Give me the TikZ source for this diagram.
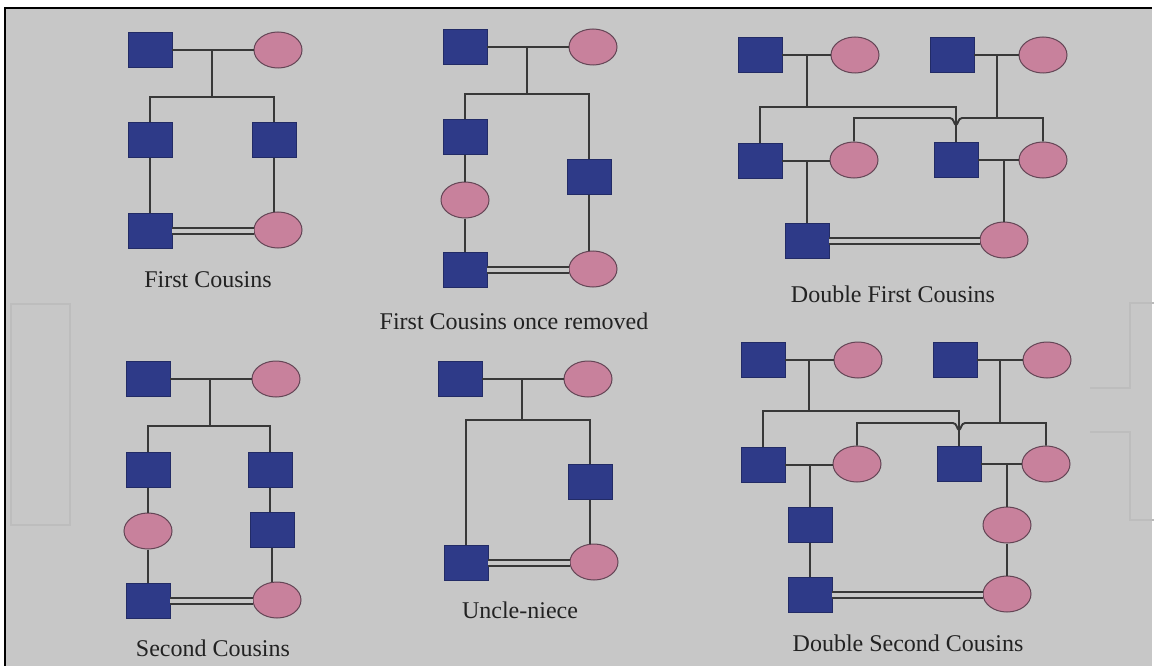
\documentclass[tikz,border=0pt]{standalone}
\usepackage{fontspec}
\setmainfont{Liberation Serif}
\usetikzlibrary{calc,shapes.geometric}
\definecolor{bggray}{HTML}{C7C7C7}
\definecolor{faintcol}{HTML}{BDBDBD}
\definecolor{malefill}{HTML}{2E3A88}
\definecolor{maleedge}{HTML}{222B66}
\definecolor{femfill}{HTML}{C8819C}
\definecolor{femedge}{HTML}{634555}
\definecolor{linecol}{HTML}{383838}
\definecolor{textcol}{HTML}{222222}
\begin{document}
\begin{tikzpicture}[x=1pt,y=-1pt,
  male/.style={rectangle,draw=maleedge,fill=malefill,line width=0.8pt,minimum width=44pt,minimum height=35pt,inner sep=0pt},
  female/.style={ellipse,draw=femedge,fill=femfill,line width=1pt,minimum width=48pt,minimum height=36pt,inner sep=0pt},
  link/.style={draw=linecol,line width=1.9pt},
  mate/.style={draw=linecol,line width=1.6pt,double=bggray,double distance=4.4pt},
  caption/.style={font=\fontsize{24}{28}\selectfont,text=textcol,inner sep=0pt},
  faint/.style={draw=faintcol,line width=1.5pt}]
\useasboundingbox (0,0) rectangle (1154,666);
\fill[white] (0,0) rectangle (1154,666);
\fill[bggray] (5,8) rectangle (1152,666);
\draw[black,line width=2pt] (5,666) -- (5,8) -- (1152,8);
% faint background shapes
\draw[faint] (11,304) rectangle (70,525);
\draw[faint] (1154,303) -- (1130,303) -- (1130,388) -- (1090,388);
\draw[faint] (1090,432) -- (1130,432) -- (1130,520) -- (1154,520);

% ---------- Panel 1: First Cousins ----------
\node[male] (p1a) at (150,50) {};
\node[female] (p1b) at (278,50) {};
\node[male] (p1c) at (150,140) {};
\node[male] (p1d) at (274,140) {};
\node[male] (p1e) at (150,231) {};
\node[female] (p1f) at (278,230) {};
\coordinate (p1m) at (212,50);
\coordinate (p1s) at (p1m |- 0,97);
\draw[link] (p1a.east) -- (p1a.east -| p1b.west);
\draw[link] (p1m) -- (p1s);
\draw[link] (p1c.north) |- (p1s) -| (p1d.north);
\draw[link] (p1c.south) -- (p1e.north);
\draw[link] (p1d.south) -- (p1d.south |- p1f.north);
\draw[mate] (p1e.east) -- (p1e.east -| p1f.west);
\node[caption] (p1t) at (208,280) {First Cousins};

% ---------- Panel 2: First Cousins once removed ----------
\node[male] (p2a) at (465,47) {};
\node[female] (p2b) at (593,47) {};
\node[male] (p2c) at (465,137) {};
\node[male] (p2d) at (589,177) {};
\node[female] (p2e) at (465,200) {};
\node[male] (p2f) at (465,270) {};
\node[female] (p2g) at (593,269) {};
\coordinate (p2m) at (527,47);
\coordinate (p2s) at (p2m |- 0,94);
\draw[link] (p2a.east) -- (p2a.east -| p2b.west);
\draw[link] (p2m) -- (p2s);
\draw[link] (p2c.north) |- (p2s) -| (p2d.north);
\draw[link] (p2c.south) -- (p2e.north);
\draw[link] (p2e.south) -- (p2f.north);
\draw[link] (p2d.south) -- (p2d.south |- p2g.north);
\draw[mate] (p2f.east) -- (p2f.east -| p2g.west);
\node[caption] (p2t) at (514,321) {First Cousins once removed};

% ---------- Panel 3: Double First Cousins ----------
\node[male] (p3a) at (760,55) {};
\node[female] (p3b) at (855,55) {};
\node[male] (p3c) at (952,55) {};
\node[female] (p3d) at (1043,55) {};
\node[male] (p3e) at (760,161) {};
\node[female] (p3f) at (854,160) {};
\node[male] (p3g) at (956,160) {};
\node[female] (p3h) at (1043,160) {};
\node[male] (p3i) at (807,241) {};
\node[female] (p3j) at (1004,240) {};
\coordinate (p3m1) at (807,55);
\coordinate (p3s1) at (p3m1 |- 0,107);
\coordinate (p3m2) at (997,55);
\coordinate (p3s2) at (p3m2 |- 0,118);
\coordinate (p3x) at (p3g.north |- p3s2);
\draw[link] (p3a.east) -- (p3a.east -| p3b.west);
\draw[link] (p3c.east) -- (p3c.east -| p3d.west);
\draw[link] (p3m1) -- (p3s1);
\draw[link] (p3m2) -- (p3s2);
\draw[link] (p3e.north) |- (p3s1) -| (p3g.north);
\draw[link] (p3f.north) |- ($(p3x)+(-6,0)$) .. controls ($(p3x)+(-2,0)$) and ($(p3x)+(-2,7)$) .. ($(p3x)+(0,7)$) .. controls ($(p3x)+(2,7)$) and ($(p3x)+(2,0)$) .. ($(p3x)+(6,0)$) -| (p3h.north);
\draw[link] (p3e.east) -- (p3e.east -| p3f.west);
\draw[link] (p3g.east) -- (p3g.east -| p3h.west);
\draw[link] (p3i.north) -- (p3i.north |- p3e.east);
\draw[link] (p3j.north) -- (p3j.north |- p3g.east);
\draw[mate] (p3i.east) -- (p3i.east -| p3j.west);
\node[caption] (p3t) at (893,294) {Double First Cousins};

% ---------- Panel 4: Second Cousins ----------
\node[male] (p4a) at (148,379) {};
\node[female] (p4b) at (276,379) {};
\node[male] (p4c) at (148,470) {};
\node[male] (p4d) at (270,470) {};
\node[female] (p4e) at (148,531) {};
\node[male] (p4f) at (272,530) {};
\node[male] (p4g) at (148,601) {};
\node[female] (p4h) at (277,600) {};
\coordinate (p4m) at (210,379);
\coordinate (p4s) at (p4m |- 0,426);
\draw[link] (p4a.east) -- (p4a.east -| p4b.west);
\draw[link] (p4m) -- (p4s);
\draw[link] (p4c.north) |- (p4s) -| (p4d.north);
\draw[link] (p4c.south) -- (p4e.north);
\draw[link] (p4e.south) -- (p4g.north);
\draw[link] (p4d.south) -- (p4d.south |- p4f.north);
\draw[link] (p4f.south) -- (p4f.south |- p4h.north);
\draw[mate] (p4g.east) -- (p4g.east -| p4h.west);
\node[caption] (p4t) at (213,648) {Second Cousins};

% ---------- Panel 5: Uncle-niece ----------
\node[male] (p5a) at (460,379) {};
\node[female] (p5b) at (588,379) {};
\node[male] (p5c) at (590,482) {};
\node[male] (p5d) at (466,563) {};
\node[female] (p5e) at (594,562) {};
\coordinate (p5m) at (522,379);
\coordinate (p5s) at (p5m |- 0,420);
\draw[link] (p5a.east) -- (p5a.east -| p5b.west);
\draw[link] (p5m) -- (p5s);
\draw[link] (p5d.north) |- (p5s) -| (p5c.north);
\draw[link] (p5c.south) -- (p5c.south |- p5e.north);
\draw[mate] (p5d.east) -- (p5d.east -| p5e.west);
\node[caption] (p5t) at (520,610) {Uncle-niece};

% ---------- Panel 6: Double Second Cousins ----------
\node[male] (p6a) at (763,360) {};
\node[female] (p6b) at (858,360) {};
\node[male] (p6c) at (955,360) {};
\node[female] (p6d) at (1047,360) {};
\node[male] (p6e) at (763,465) {};
\node[female] (p6f) at (857,464) {};
\node[male] (p6g) at (959,464) {};
\node[female] (p6h) at (1046,464) {};
\node[male] (p6i) at (810,525) {};
\node[female] (p6j) at (1007,525) {};
\node[male] (p6k) at (810,595) {};
\node[female] (p6l) at (1007,594) {};
\coordinate (p6m1) at (809,360);
\coordinate (p6s1) at (p6m1 |- 0,411);
\coordinate (p6m2) at (1000,360);
\coordinate (p6s2) at (p6m2 |- 0,423);
\coordinate (p6x) at (p6g.north |- p6s2);
\draw[link] (p6a.east) -- (p6a.east -| p6b.west);
\draw[link] (p6c.east) -- (p6c.east -| p6d.west);
\draw[link] (p6m1) -- (p6s1);
\draw[link] (p6m2) -- (p6s2);
\draw[link] (p6e.north) |- (p6s1) -| (p6g.north);
\draw[link] (p6f.north) |- ($(p6x)+(-6,0)$) .. controls ($(p6x)+(-2,0)$) and ($(p6x)+(-2,7)$) .. ($(p6x)+(0,7)$) .. controls ($(p6x)+(2,7)$) and ($(p6x)+(2,0)$) .. ($(p6x)+(6,0)$) -| (p6h.north);
\draw[link] (p6e.east) -- (p6e.east -| p6f.west);
\draw[link] (p6g.east) -- (p6g.east -| p6h.west);
\draw[link] (p6i.north) -- (p6i.north |- p6e.east);
\draw[link] (p6j.north) -- (p6j.north |- p6g.east);
\draw[link] (p6i.south) -- (p6k.north);
\draw[link] (p6j.south) -- (p6l.north);
\draw[mate] (p6k.east) -- (p6k.east -| p6l.west);
\node[caption] (p6t) at (908,643) {Double Second Cousins};
\end{tikzpicture}
\end{document}
